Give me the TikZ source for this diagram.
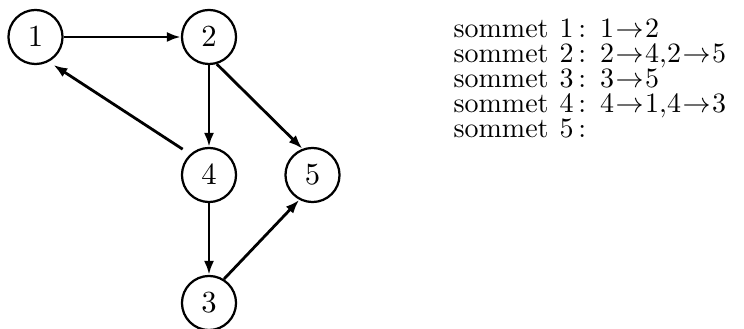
\documentclass[tikz,border=0pt]{standalone}
\usetikzlibrary{
	positioning		% relative placement
	, arrows.meta	% Latex arrow tips with a set size
}
\begin{document}
\begin{tikzpicture}[
			x=0.357pt, y=-0.357pt,
			vertex/.style={
				circle,
				draw=black, thick,
				minimum size=19.3pt,
				inner sep=0pt,
				font=\fontsize{11}{13}\selectfont
			},
			arrow/.style={
				->,
				line width=1pt
			},
			listline/.style={
				anchor=base west,
				inner sep=0pt
			},
			>={Latex[length=5pt, width=3.6pt]}]

			\useasboundingbox (0,0) rectangle (744,329);

			%%% The five vertices of the graph
			\node [vertex] (v1) at (35.5,37) {$1$};
			\node [vertex] (v2) at (209,37) {$2$};
			\node [vertex] (v4) at (209,175) {$4$};
			\node [vertex] (v5) at (312.5,175) {$5$};
			\node [vertex] (v3) at (209,303) {$3$};

			%%% Directed edges
			\draw [arrow] (v1) -- (v2);
			\draw [arrow] (v2) -- (v4);
			\draw [arrow] (v2.-74) -- (v5.111);
			\draw [arrow, shorten <=3.2pt, shorten >=2pt] (v4.132) -- (v1.-62);
			\draw [arrow] (v4) -- (v3);
			\draw [arrow] (v3.58) -- (v5.242);

			%%% Adjacency list, one line for each vertex
			\foreach [count=\i] \succs in {{$1\mkern1mu{\to}\mkern1mu2$}, {$2\mkern1mu{\to}\mkern1mu4{,}2\mkern1mu{\to}\mkern1mu5$}, {$3\mkern1mu{\to}\mkern1mu5$}, {$4\mkern1mu{\to}\mkern1mu1{,}4\mkern1mu{\to}\mkern1mu3$}, {}} {
				\node [listline] (line\i) at (453, {37.3+25*(\i-1)}) {sommet\hspace{0.6pt} $\i\,$:\hspace{5pt}\succs};
			};

		\end{tikzpicture}
\end{document}
